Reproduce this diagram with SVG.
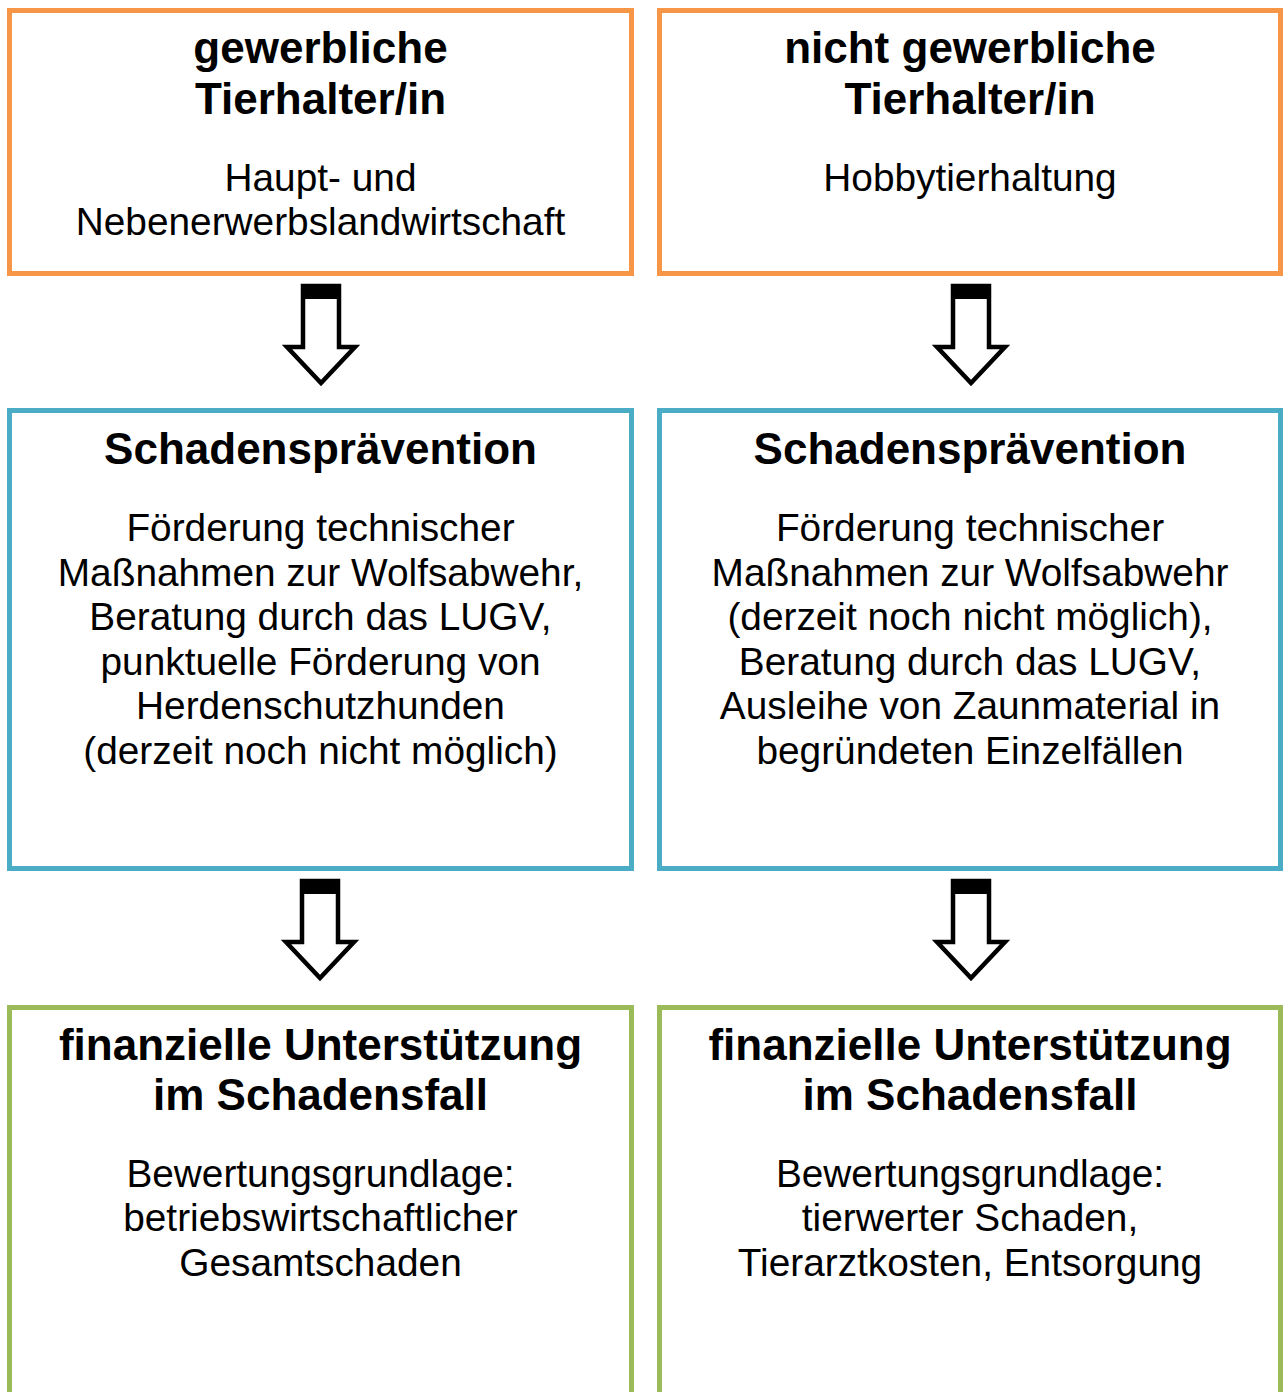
<svg xmlns="http://www.w3.org/2000/svg" xmlns:xlink="http://www.w3.org/1999/xlink" width="1283" height="1392" viewBox="0 0 1283 1392">
<style>
  .box { fill: #ffffff; stroke-width: 5; }
  .orange { stroke: #F79646; }
  .blue { stroke: #4BACC6; }
  .green { stroke: #9BBB59; }
  .t { font-family: "Liberation Sans", Arial, sans-serif; font-weight: bold; font-size: 44px; fill: #000; text-anchor: middle; }
  .b { font-family: "Liberation Sans", Arial, sans-serif; font-size: 38.8px; fill: #000; text-anchor: middle; }
</style>
<defs>
  <g id="arrow">
    <path d="M -18,0 V 61 H -34 L 0,97 L 34,61 H 18 V 0 Z" fill="#ffffff" stroke="#000" stroke-width="4.5" stroke-linejoin="miter"/>
    <rect x="-20" y="-2" width="40" height="15" rx="2" fill="#000"/>
  </g>
</defs>
<rect width="1283" height="1392" fill="#ffffff"/>

<g id="node-gewerblich">
  <rect class="box orange" x="9.5" y="10.5" width="622" height="263"/>
  <text class="t" x="320.5" y="63">gewerbliche</text>
  <text class="t" x="320.5" y="114">Tierhalter/in</text>
  <text class="b" x="320.5" y="191">Haupt- und</text>
  <text class="b" x="320.5" y="235">Nebenerwerbslandwirtschaft</text>
</g>
<g id="node-nicht-gewerblich">
  <rect class="box orange" x="659.5" y="10.5" width="621" height="263"/>
  <text class="t" x="970" y="63">nicht gewerbliche</text>
  <text class="t" x="970" y="114">Tierhalter/in</text>
  <text class="b" x="970" y="191">Hobbytierhaltung</text>
</g>

<g id="node-praevention-links">
  <rect class="box blue" x="9.5" y="410.5" width="622" height="458"/>
  <text class="t" x="320.5" y="464">Schadensprävention</text>
  <text class="b" x="320.5" y="541">Förderung technischer</text>
  <text class="b" x="320.5" y="586">Maßnahmen zur Wolfsabwehr,</text>
  <text class="b" x="320.5" y="630">Beratung durch das LUGV,</text>
  <text class="b" x="320.5" y="675">punktuelle Förderung von</text>
  <text class="b" x="320.5" y="719">Herdenschutzhunden</text>
  <text class="b" x="320.5" y="764">(derzeit noch nicht möglich)</text>
</g>
<g id="node-praevention-rechts">
  <rect class="box blue" x="659.5" y="410.5" width="621" height="458"/>
  <text class="t" x="970" y="464">Schadensprävention</text>
  <text class="b" x="970" y="541">Förderung technischer</text>
  <text class="b" x="970" y="586">Maßnahmen zur Wolfsabwehr</text>
  <text class="b" x="970" y="630">(derzeit noch nicht möglich),</text>
  <text class="b" x="970" y="675">Beratung durch das LUGV,</text>
  <text class="b" x="970" y="719">Ausleihe von Zaunmaterial in</text>
  <text class="b" x="970" y="764">begründeten Einzelfällen</text>
</g>

<g id="node-finanziell-links">
  <rect class="box green" x="9.5" y="1007.5" width="622" height="388"/>
  <text class="t" x="320.5" y="1060">finanzielle Unterstützung</text>
  <text class="t" x="320.5" y="1110">im Schadensfall</text>
  <text class="b" x="320.5" y="1187">Bewertungsgrundlage:</text>
  <text class="b" x="320.5" y="1231">betriebswirtschaftlicher</text>
  <text class="b" x="320.5" y="1276">Gesamtschaden</text>
</g>
<g id="node-finanziell-rechts">
  <rect class="box green" x="659.5" y="1007.5" width="621" height="388"/>
  <text class="t" x="970" y="1060">finanzielle Unterstützung</text>
  <text class="t" x="970" y="1110">im Schadensfall</text>
  <text class="b" x="970" y="1187">Bewertungsgrundlage:</text>
  <text class="b" x="970" y="1231">tierwerter Schaden,</text>
  <text class="b" x="970" y="1276">Tierarztkosten, Entsorgung</text>
</g>

<g id="connectors">
  <use xlink:href="#arrow" href="#arrow" transform="translate(321,286)"/>
  <use xlink:href="#arrow" href="#arrow" transform="translate(971,286)"/>
  <use xlink:href="#arrow" href="#arrow" transform="translate(320,881)"/>
  <use xlink:href="#arrow" href="#arrow" transform="translate(971,881)"/>
</g>
</svg>
